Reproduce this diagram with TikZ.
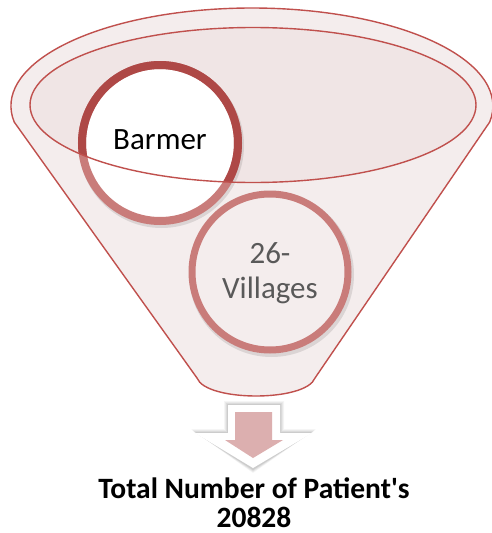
\documentclass[tikz,border=0pt]{standalone}
\usepackage{fontspec}
\setmainfont{Carlito}
\newfontfamily\carl{Carlito}
\definecolor{funline}{HTML}{C0504D}
\definecolor{funfill}{HTML}{F4EDED}
\definecolor{innfill}{HTML}{F0E5E5}
\definecolor{ringdark}{HTML}{AE4846}
\definecolor{ringlight}{HTML}{C97C7A}
\definecolor{arrowpink}{HTML}{DCAFAF}
\definecolor{txtgray}{HTML}{595959}
\tikzset{
  funnelshape/.style={draw=funline, fill=funfill, line width=1.4pt, line join=round},
  innerell/.style={draw=funline, line width=1.4pt},
  ringnode/.style={circle, minimum size=156pt, inner sep=0pt},
  ringshadow/.style={draw=black, opacity=0.10, line width=9pt},
  bigtext/.style={font=\fontsize{31}{35}\selectfont, inner sep=0pt},
  boldtext/.style={font=\carl\bfseries\fontsize{29.5}{31}\selectfont, inner sep=0pt}
}
\begin{document}
\begin{tikzpicture}[x=1pt,y=-1pt]
\useasboundingbox (0,0) rectangle (491,533);
% funnel body
\path[funnelshape] (14.2,122) arc[start angle=170.6,end angle=369.4,x radius=241,y radius=98]
  -- (315,378) .. controls (306,402) and (206,402) .. (197,378) -- cycle;
% inner ellipse fill
\fill[innfill] (253,105) ellipse [x radius=223, y radius=77.5];
% shadows of circles
\draw[ringshadow] (161.5,145.5) circle[radius=78pt];
\draw[ringshadow] (271.5,274.5) circle[radius=78pt];
% 26-Villages circle
\node[ringnode, draw=ringlight, line width=7pt, fill=funfill] (vill) at (270,272) {};
\node[bigtext, text=txtgray, anchor=base] (v1) at (270,263) {26-};
\node[bigtext, text=txtgray, anchor=base] (v2) at (270,298) {Villages};
% Barmer circle
\node[ringnode, draw=ringlight, line width=8pt, fill=white] (barmer) at (160,143) {};
\begin{scope}
  \clip (253,105) ellipse [x radius=223, y radius=77.5];
  \draw[ringdark, line width=8pt] (barmer.center) circle[radius=78pt];
\end{scope}
\node[bigtext, text=black] (btext) at (160,140) {Barmer};
% inner ellipse outline
\draw[innerell] (253,105) ellipse [x radius=223, y radius=77.5];
% arrow
\foreach \o/\op in {4/0.04,3/0.05,2/0.06,1/0.07}{
  \fill[black, opacity=\op] (228-\o,405-\o) -- (280+\o,405-\o) -- (280+\o,433-\o) -- (312+\o,433-\o)
     -- (253,468+\o+1) -- (195-\o,433-\o) -- (228-\o,433-\o) -- cycle;
}
\fill[white] (228,405) -- (280,405) -- (280,433) -- (312,433) -- (253,468) -- (195,433) -- (228,433) -- cycle;
\fill[arrowpink] (235,412) -- (272,412) -- (272,440) -- (283,440) -- (253,458) -- (225,440) -- (235,440) -- cycle;
% bottom text
\node[boldtext, anchor=base] (total1) at (254,498) {Total Number of Patient's};
\node[boldtext, anchor=base] (total2) at (254,527.5) {20828};
\end{tikzpicture}
\end{document}
